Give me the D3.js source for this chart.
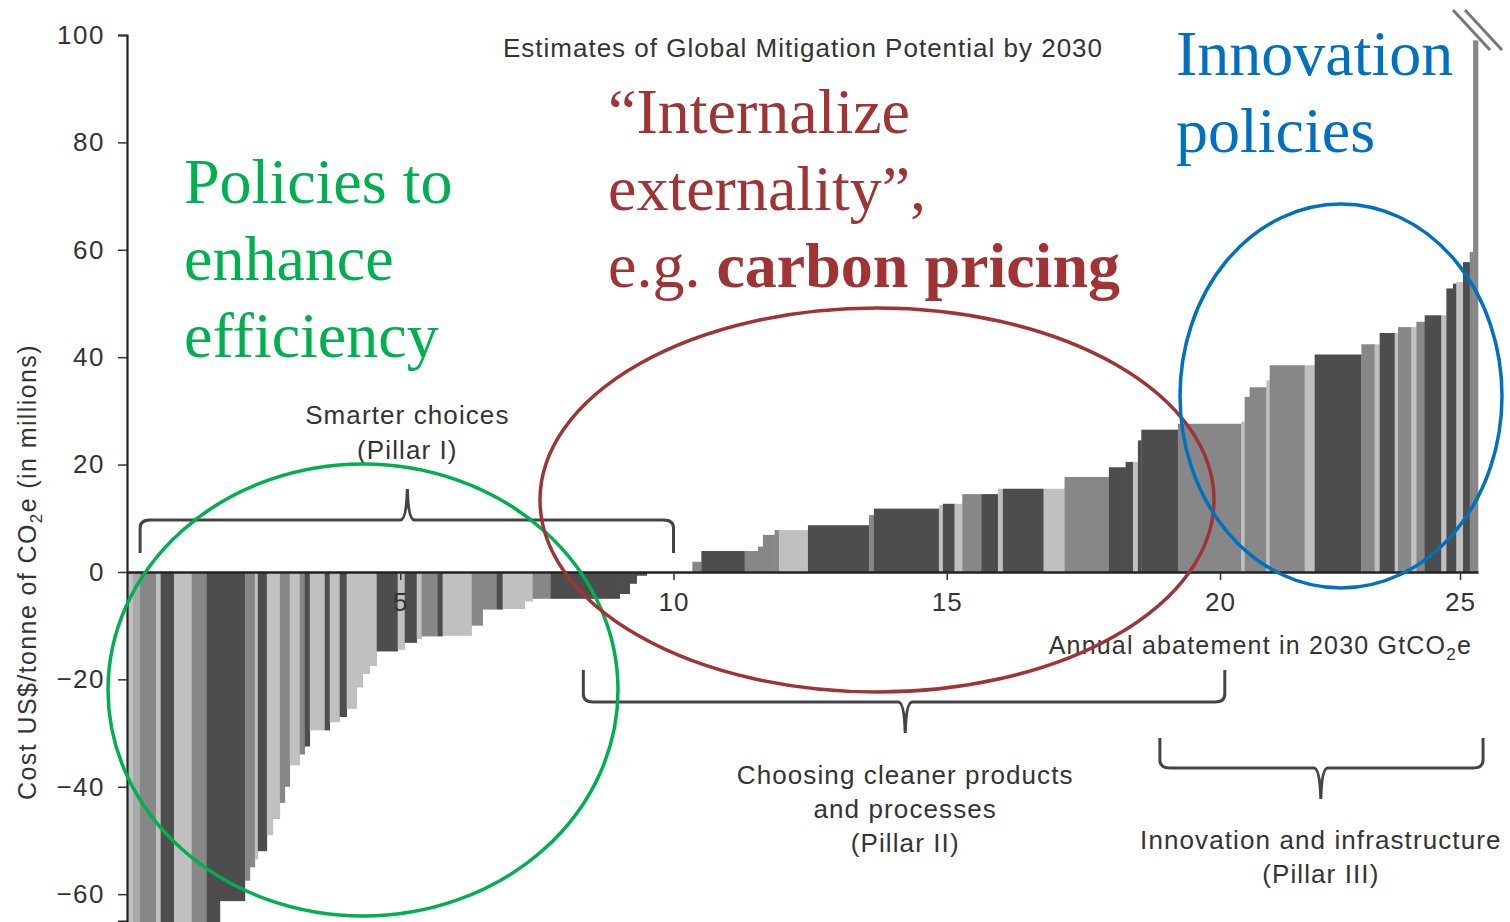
<!DOCTYPE html>
<html>
<head>
<meta charset="utf-8">
<script src="https://cdn.jsdelivr.net/npm/d3@7"></script>
<style>
  body { margin: 0; background: #fff; }
  svg { display: block; }
</style>
</head>
<body>
<svg width="1510" height="922"></svg>
<script>
// abatement per measure (GtCO2e), cost per tonne, and bar shade, left to right
const widths = [
  0.110, 0.128, 0.091, 0.201, 0.086, 0.243, 0.110, 0.214, 0.060, 0.214,
  0.243, 0.457, 0.091, 0.091, 0.055, 0.165, 0.110, 0.128, 0.091, 0.091,
  0.183, 0.091, 0.091, 0.274, 0.091, 0.183, 0.128, 0.183, 0.110, 0.128,
  0.128, 0.384, 0.128, 0.220, 0.091, 0.293, 0.091, 0.531, 0.201, 0.256,
  0.110, 0.403, 0.146, 0.329, 1.263, 0.183, 0.128, 0.183, 0.836, 0.165,
  0.792, 0.243, 0.091, 0.214, 0.079, 0.531, 1.116, 0.091, 1.189, 0.073,
  0.214, 0.141, 0.348, 0.304, 0.091, 0.745, 0.384, 0.811, 0.306, 0.134,
  0.091, 0.062, 0.670, 1.215, 0.069, 0.104, 0.348, 0.069, 0.729, 0.208,
  0.973, 0.277, 0.104, 0.313, 0.069, 0.279, 0.104, 0.173, 0.348, 0.104,
  0.138, 0.071, 0.138, 0.140, 0.069, 0.104
];
const costs = [
  -68, -68, -68, -68, -68, -68, -68, -68, -68, -68,
  -68, -61.3, -57.5, -55, -53.5, -52, -49, -46, -43, -40,
  -36, -34, -32.5, -29.5, -29.5, -28, -27, -25.5, -21.5, -19,
  -17.5, -14.8, -14.5, -13.2, -12.5, -12, -12, -11.9, -10, -7,
  -7, -6.9, -5.5, -5, -5, -4.1, -2.2, -0.7, 0, 1.9,
  3.9, 3.9, 4.7, 6.9, 7.8, 7.8, 8.7, 10.6, 11.8, 12.5,
  12.7, 12.7, 14.5, 14.5, 15.5, 15.5, 15.5, 17.7, 19.5, 20.5,
  20.5, 24.5, 26.5, 27.6, 28, 32.6, 34.4, 35.7, 38.5, 38.5,
  40.5, 42.4, 42.4, 44.5, 44.5, 45.6, 45.6, 46.6, 47.8, 47.8,
  52.8, 53.7, 54, 57.7, 59.6, 99
];
const shades = [
  "L", "L2", "M", "M", "L", "D", "L", "L", "M", "M",
  "D", "D", "M", "M", "L", "D", "L", "L", "M", "M",
  "L", "M", "D", "L", "D", "L", "D", "L", "L", "L",
  "L", "D", "L", "D", "L", "M", "D", "L", "M", "M",
  "D", "L", "L", "M", "D", "D", "D", "D", "D", "M",
  "D", "M", "M", "M", "M", "L", "D", "M", "D", "L",
  "D", "L", "M", "D", "L", "D", "L", "M", "D", "D",
  "L", "D", "D", "M", "L", "M", "M", "L", "M", "L",
  "D", "M", "L", "D", "L", "M", "L", "M", "D", "L",
  "D", "D", "L", "D", "M", "M"
];
const shadeColor = { D: "#4d4d4d", M: "#878787", L: "#c0c0c0", L2: "#a9a9a9" };

const yTicks = [-60, -40, -20, 0, 20, 40, 60, 80, 100];
const xTicks = [5, 10, 15, 20, 25];

const title = "Estimates of Global Mitigation Potential by 2030";
const pillars = [
  { lines: ["Smarter choices", "(Pillar I)"], from: 0.24, to: 10, mid: 5.13, up: true },
  { lines: ["Choosing cleaner products", "and processes", "(Pillar II)"], from: 8.35, to: 20.1, mid: 14.24, up: false },
  { lines: ["Innovation and infrastructure", "(Pillar III)"], from: 18.9, to: 25.48, mid: 22.1, up: false }
];

const svg = d3.select("svg");
const sans = "'Liberation Sans', Arial, Helvetica, sans-serif";
const serif = "'Liberation Serif', 'Times New Roman', serif";
const ink = "#333";

// x axis is not uniform in the source (20 -> 25 is squeezed)
const x = d3.scaleLinear().domain([0, 20, 25.375]).range([127, 1220, 1478]);
const y = d3.scaleLinear().domain([-65, 100]).range([921, 35]);

// bars
const starts = [0, ...d3.cumsum(widths)];
const bars = widths.map((w, i) => ({ x0: starts[i], x1: starts[i] + w, cost: costs[i], shade: shades[i] }));

svg.append("g").selectAll("rect").data(bars)
  .enter().append("rect")
    .attr("x", d => x(d.x0))
    .attr("width", d => Math.max(0, x(d.x1) - x(d.x0)) + 0.3)
    .attr("y", d => y(Math.max(0, d.cost)))
    .attr("height", d => Math.abs(y(d.cost) - y(0)))
    .attr("fill", d => shadeColor[d.shade]);

// y axis
const gy = svg.append("g")
  .attr("transform", `translate(${x(0)},0)`)
  .call(d3.axisLeft(y).tickValues(yTicks).tickSize(9).tickPadding(13));
gy.select(".domain").attr("stroke", "#222").attr("stroke-width", 2.2);
gy.selectAll(".tick line").attr("stroke", ink).attr("stroke-width", 1.5);
gy.selectAll(".tick text").attr("font-family", sans).attr("font-size", 26)
  .attr("letter-spacing", 1.5).attr("fill", ink);

// x axis along zero
const gx = svg.append("g")
  .attr("transform", `translate(0,${y(0)})`)
  .call(d3.axisBottom(x).tickValues(xTicks).tickSize(8).tickSizeOuter(0).tickPadding(13));
gx.select(".domain").attr("stroke", "#222").attr("stroke-width", 2.5);
gx.selectAll(".tick line").attr("stroke", ink).attr("stroke-width", 1.5);
gx.selectAll(".tick text").attr("font-family", sans).attr("font-size", 26)
  .attr("letter-spacing", 1).attr("fill", ink);

// axis titles
const yl = svg.append("text")
  .attr("transform", `translate(36,${y(0)}) rotate(-90)`)
  .attr("text-anchor", "middle")
  .attr("font-family", sans).attr("font-size", 25).attr("letter-spacing", 1.4).attr("fill", ink);
yl.append("tspan").text("Cost US$/tonne of CO");
yl.append("tspan").attr("font-size", 17).attr("dy", 6).text("2");
yl.append("tspan").attr("dy", -6).text("e (in millions)");

const xl = svg.append("text")
  .attr("x", 1472).attr("y", 654)
  .attr("text-anchor", "end")
  .attr("font-family", sans).attr("font-size", 25).attr("letter-spacing", 1.2).attr("fill", ink);
xl.append("tspan").text("Annual abatement in 2030 GtCO");
xl.append("tspan").attr("font-size", 17).attr("dy", 6).text("2");
xl.append("tspan").attr("dy", -6).text("e");

svg.append("text")
  .attr("x", 803).attr("y", 57)
  .attr("text-anchor", "middle")
  .attr("font-family", sans).attr("font-size", 26).attr("letter-spacing", 1).attr("fill", ink)
  .text(title);

// pillar braces
const braceY = [520, 702, 768];
const braceH = [33, 32, 30];
const labelY = [[424, 459], [784, 818, 852], [849, 883]];
pillars.forEach((p, i) => {
  const a = x(p.from), b = x(p.to), m = x(p.mid), yy = braceY[i];
  const s = p.up ? 1 : -1;           // ends hang down when brace points up
  const end = yy + s * braceH[i];
  const tip = yy - s * 31;
  const path = `M${a},${end} L${a},${yy + s * 8} Q${a},${yy} ${a + 10},${yy}` +
    ` L${m - 7},${yy} Q${m - 1},${yy} ${m},${tip} Q${m + 1},${yy} ${m + 7},${yy}` +
    ` L${b - 10},${yy} Q${b},${yy} ${b},${yy + s * 8} L${b},${end}`;
  svg.append("path").attr("d", path)
    .attr("fill", "none").attr("stroke", "#444").attr("stroke-width", 3);
  p.lines.forEach((t, j) => {
    svg.append("text")
      .attr("x", m).attr("y", labelY[i][j])
      .attr("text-anchor", "middle")
      .attr("font-family", sans).attr("font-size", 26).attr("letter-spacing", 1.1).attr("fill", ink)
      .text(t);
  });
});

// axis break on the tallest bar
[0, 12].forEach(dx => {
  svg.append("line")
    .attr("x1", 1453 + dx).attr("y1", 10).attr("x2", 1490 + dx).attr("y2", 50)
    .attr("stroke", "#777").attr("stroke-width", 3);
});

// overlay annotations
const notes = [
  { lines: ["Policies to", "enhance", "efficiency"], x: 184, y0: 203, color: "#00b050" },
  { lines: ["\u201cInternalize", "externality\u201d,"], x: 608, y0: 133, color: "#a03434" },
  { lines: ["Innovation", "policies"], x: 1176, y0: 75, color: "#0070c0" }
];
notes.forEach(n => {
  n.lines.forEach((t, j) => {
    svg.append("text")
      .attr("x", n.x).attr("y", n.y0 + j * 77)
      .attr("font-family", serif).attr("font-size", 64).attr("fill", n.color)
      .text(t);
  });
});
const eg = svg.append("text")
  .attr("x", 608).attr("y", 287)
  .attr("font-family", serif).attr("font-size", 64).attr("fill", "#a03434");
eg.append("tspan").text("e.g. ");
eg.append("tspan").attr("font-weight", "bold").text("carbon pricing");

const rings = [
  { cx: 363, cy: 690, rx: 255, ry: 226, color: "#00b050" },
  { cx: 877, cy: 500, rx: 337, ry: 192, color: "#a03434" },
  { cx: 1341, cy: 396, rx: 161, ry: 192, color: "#0070c0" }
];
svg.append("g").selectAll("ellipse").data(rings)
  .enter().append("ellipse")
    .attr("cx", d => d.cx).attr("cy", d => d.cy)
    .attr("rx", d => d.rx).attr("ry", d => d.ry)
    .attr("fill", "none").attr("stroke", d => d.color).attr("stroke-width", 3.5);
</script>
</body>
</html>
